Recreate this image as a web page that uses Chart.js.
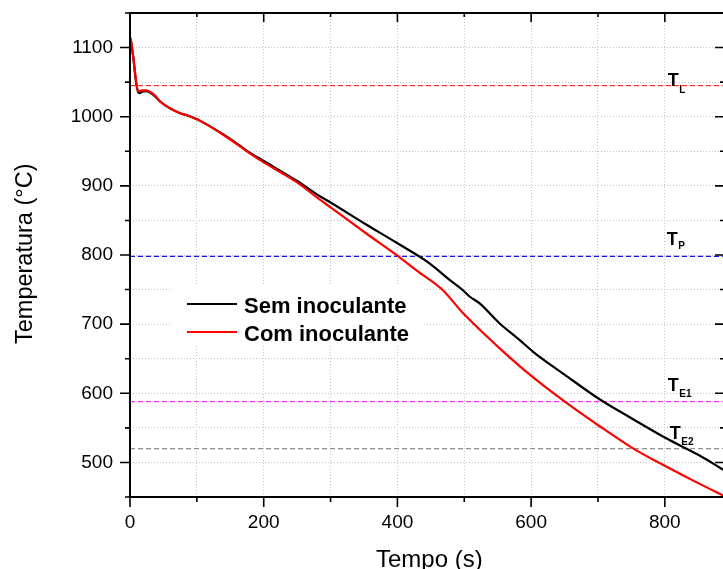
<!DOCTYPE html>
<html>
<head>
<meta charset="utf-8">
<script src="https://cdn.jsdelivr.net/npm/chart.js@4/dist/chart.umd.min.js"></script>
<style>
html,body{margin:0;padding:0;background:#fff;overflow:hidden;width:723px;height:569px;}
canvas{display:block;}
</style>
</head>
<body>
<canvas id="c" width="760" height="569"></canvas>
<script>
// ---- data ----
const semX = [1, 5, 9, 12, 14, 18, 24, 30, 38, 45, 60, 75, 85, 105, 150, 179, 200, 250, 284, 300, 350, 400, 448, 478, 498, 508, 523, 553, 583, 603, 650, 703, 750, 802, 850, 890];
const semY = [1112, 1085, 1050, 1036, 1034, 1036, 1037, 1035, 1029, 1022, 1012, 1005, 1002, 994, 968, 948, 936, 907, 885, 876, 846, 817, 788, 764, 749, 740, 730, 701, 677, 660, 627, 591, 564, 535, 511, 488];
const comX = [1, 5, 9, 12, 14, 18, 24, 30, 38, 45, 60, 75, 85, 105, 150, 179, 200, 250, 284, 300, 355, 400, 428, 468, 498, 553, 593, 653, 703, 753, 802, 852, 890];
const comY = [1114, 1086, 1052, 1037, 1037, 1038, 1038, 1036, 1030, 1022, 1012, 1005, 1002, 994, 967, 947, 934, 905, 880, 869, 830, 799, 778, 749, 716, 665, 631, 586, 552, 520, 494, 469, 451];
const seriesNames = ['Sem inoculante', 'Com inoculante'];
const refSubs = ['L', 'P', 'E1', 'E2'];
const refValues = [1045, 798, 588, 520];
const refColors = ['#ff3030', '#1010ff', '#ff30ff', '#909090'];
const xTickValues = [0, 100, 200, 300, 400, 500, 600, 700, 800];
const yTickValues = [450, 500, 550, 600, 650, 700, 750, 800, 850, 900, 950, 1000, 1050, 1100, 1150];
const xMin = 0, xMax = 890, yMin = 450, yMax = 1150;

const FONT = "'Liberation Sans', Arial, Helvetica, sans-serif";
const toPts = (xs, ys) => xs.map((x, i) => ({x: x, y: ys[i]}));

const refSets = refValues.map((v, i) => ({
  label: 'T' + refSubs[i],
  data: [{x: xMin, y: v}, {x: xMax, y: v}],
  borderColor: refColors[i],
  borderWidth: 1.2,
  borderDash: [5, 3],
  pointRadius: 0,
  tension: 0
}));

const decor = {
  id: 'decor',
  afterDraw(chart) {
    const ctx = chart.ctx;
    const a = chart.chartArea;
    const xs = chart.scales.x, ys = chart.scales.y;
    ctx.save();
    ctx.strokeStyle = '#000';
    ctx.lineWidth = 2;
    // frame
    ctx.beginPath();
    ctx.moveTo(a.left, a.top); ctx.lineTo(a.right, a.top);
    ctx.moveTo(a.left, a.bottom); ctx.lineTo(a.right, a.bottom);
    ctx.moveTo(a.left, a.top - 1); ctx.lineTo(a.left, a.bottom + 1);
    ctx.moveTo(a.right, a.top - 1); ctx.lineTo(a.right, a.bottom + 1);
    ctx.stroke();
    // ticks
    ctx.lineWidth = 1.6;
    ctx.beginPath();
    yTickValues.forEach(v => {
      const p = ys.getPixelForValue(v);
      const L = (v % 100 === 0) ? 10 : 5;
      ctx.moveTo(a.left - L, p); ctx.lineTo(a.left, p);
      ctx.moveTo(a.right, p); ctx.lineTo(a.right - L, p);
    });
    xTickValues.forEach(v => {
      const p = xs.getPixelForValue(v);
      const L = (v % 200 === 0) ? 10 : 5;
      ctx.moveTo(p, a.bottom); ctx.lineTo(p, a.bottom + L);
      ctx.moveTo(p, a.top); ctx.lineTo(p, a.top + L - 1);
    });
    ctx.stroke();

    // axis titles
    ctx.fillStyle = '#000';
    ctx.font = '24px ' + FONT;
    ctx.textBaseline = 'alphabetic';
    ctx.textAlign = 'left';
    ctx.fillText('Tempo (s)', 376, 567);
    ctx.save();
    ctx.translate(32, 344);
    ctx.rotate(-Math.PI / 2);
    ctx.font = '23.5px ' + FONT;
    ctx.fillText('Temperatura (\u00B0C)', 0, 0);
    ctx.restore();

    // reference labels
    const offT = [0.6, -11.4, -10.6, -9.6];
    const offS = [7, 4.5, 5.7, 6];
    const xv = [804.5, 803, 804.5, 807.5];
    refValues.forEach((v, i) => {
      const px = xs.getPixelForValue(xv[i]);
      const py = ys.getPixelForValue(v) + offT[i];
      ctx.font = 'bold 18px ' + FONT;
      ctx.fillText('T', px, py);
      const w = ctx.measureText('T').width;
      ctx.font = 'bold 10px ' + FONT;
      ctx.fillText(refSubs[i], px + w + 0.5, py + offS[i]);
    });

    // legend
    ctx.fillStyle = '#fff';
    ctx.fillRect(172, 286, 250, 59);
    const lcol = ['#000000', '#ff0000'];
    const ly = [304, 332];
    const lb = [313, 341];
    ctx.font = 'bold 22px ' + FONT;
    seriesNames.forEach((n, i) => {
      ctx.strokeStyle = lcol[i];
      ctx.lineWidth = 2;
      ctx.beginPath();
      ctx.moveTo(187, ly[i]); ctx.lineTo(237, ly[i]);
      ctx.stroke();
      ctx.fillStyle = '#000';
      ctx.fillText(n, 244, lb[i]);
    });
    ctx.restore();
  }
};

new Chart(document.getElementById('c'), {
  type: 'line',
  data: {
    datasets: [
      {label: seriesNames[1], data: toPts(comX, comY), borderColor: '#ff0000', borderWidth: 2.2, pointRadius: 0, cubicInterpolationMode: 'monotone'},
      {label: seriesNames[0], data: toPts(semX, semY), borderColor: '#000000', borderWidth: 2.2, pointRadius: 0, cubicInterpolationMode: 'monotone'}
    ].concat(refSets)
  },
  options: {
    responsive: false,
    animation: false,
    devicePixelRatio: 1,
    layout: {padding: {left: 0, top: 13, right: 35, bottom: 0}},
    plugins: {legend: {display: false}, tooltip: {enabled: false}, title: {display: false}},
    scales: {
      x: {
        type: 'linear', min: xMin, max: xMax,
        afterFit: s => { s.height = 72; s.paddingLeft = 0; s.paddingRight = 0; },
        afterBuildTicks: s => { s.ticks = xTickValues.map(v => ({value: v})); },
        ticks: {autoSkip: false, maxRotation: 0, minRotation: 0, padding: 14, color: '#000',
          font: {size: 19, family: FONT},
          callback: v => (v % 200 === 0 ? String(v) : '')},
        grid: {color: '#c4c4c4', lineWidth: 1, drawTicks: false},
        border: {display: false, dash: [1, 2]}
      },
      y: {
        type: 'linear', min: yMin, max: yMax,
        afterFit: s => { s.width = 130; s.paddingTop = 0; s.paddingBottom = 0; },
        afterBuildTicks: s => { s.ticks = yTickValues.map(v => ({value: v})); },
        ticks: {autoSkip: false, padding: 17, color: '#000',
          font: {size: 19, family: FONT},
          callback: v => (v % 100 === 0 ? String(v) : '')},
        grid: {color: '#c4c4c4', lineWidth: 1, drawTicks: false},
        border: {display: false, dash: [1, 2]}
      }
    }
  },
  plugins: [decor]
});
</script>
</body>
</html>
